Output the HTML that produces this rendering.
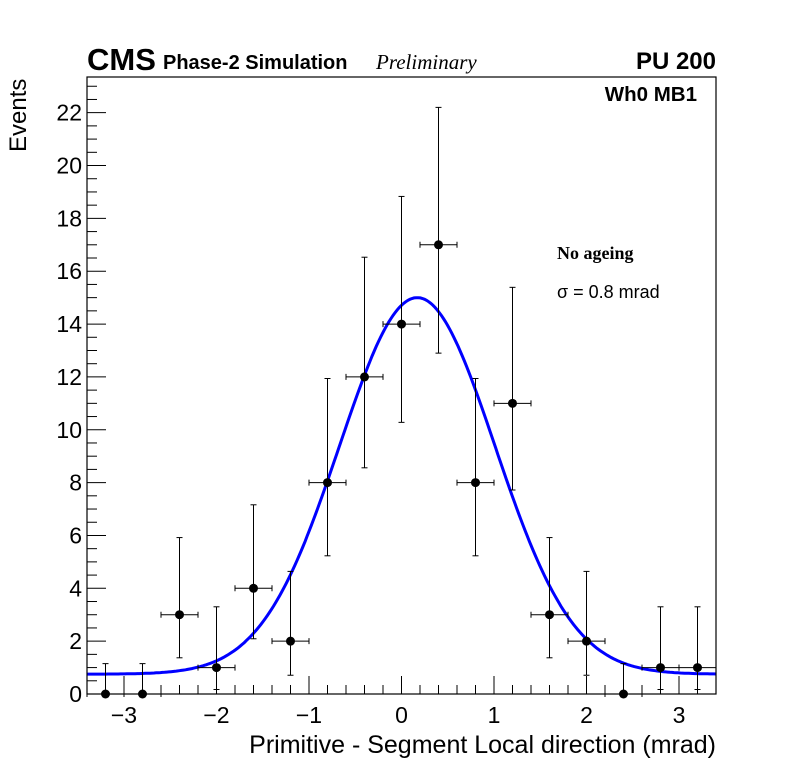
<!DOCTYPE html>
<html><head><meta charset="utf-8"><style>
html,body{margin:0;padding:0;background:#fff;}
svg{display:block;font-family:"Liberation Sans",sans-serif;}
</style></head><body>
<svg id="chart" width="796" height="772" viewBox="0 0 796 772">
<rect width="796" height="772" fill="#fff"/>
<g id="axes"></g>
<g id="marks"></g>
<rect x="87" y="77" width="629" height="617" fill="none" stroke="#000" stroke-width="1.2"/>
<text x="87" y="70" font-size="31" font-weight="bold">CMS</text>
<text x="163" y="69" font-size="20" font-weight="bold">Phase-2 Simulation</text>
<text x="376" y="69" font-size="21" font-style="italic" font-family="Liberation Serif, serif">Preliminary</text>
<text x="716" y="69" font-size="24" font-weight="bold" text-anchor="end">PU 200</text>
<text x="697" y="101" font-size="20.5" font-weight="bold" text-anchor="end">Wh0 MB1</text>
<text x="557" y="259" font-size="18" font-weight="bold" font-family="Liberation Serif, serif">No ageing</text>
<text x="557" y="298" font-size="18">σ = 0.8 mrad</text>
<text x="716" y="753" font-size="25" text-anchor="end">Primitive - Segment Local direction (mrad)</text>
<text transform="translate(26,152) rotate(-90)" font-size="24">Events</text>
</svg>
<script>
const binCenters = [-3.2,-2.8,-2.4,-2.0,-1.6,-1.2,-0.8,-0.4,0,0.4,0.8,1.2,1.6,2.0,2.4,2.8,3.2];
const counts = [0,0,3,1,4,2,8,12,14,17,8,11,3,2,0,1,1];
const errLow = [0,0,1.63,0.83,1.91,1.29,2.77,3.44,3.72,4.1,2.77,3.28,1.63,1.29,0,0.83,0.83];
const errHigh = [1.15,1.15,2.92,2.3,3.16,2.64,3.94,4.53,4.83,5.2,3.94,4.39,2.92,2.64,1.15,2.3,2.3];
const binHalfWidth = [0.2];
const fitParams = [14.25, 0.17, 0.84, 0.75]; // amplitude, mean, sigma, constant
const xTicks = [-3,-2,-1,0,1,2,3];
const xTickLabels = ["\u22123","\u22122","\u22121","0","1","2","3"];
const yTicks = [0,2,4,6,8,10,12,14,16,18,20,22];
const yTickLabels = ["0","2","4","6","8","10","12","14","16","18","20","22"];
const xMin=-3.4, xMax=3.4, yMin=0, yMax=23.35;
const L=87,R=716,T=77,B=694;
const X=v=>L+(v-xMin)/(xMax-xMin)*(R-L);
const Y=v=>B-(v-yMin)/(yMax-yMin)*(B-T);
const NS="http://www.w3.org/2000/svg";
const axes=document.getElementById('axes'), marks=document.getElementById('marks');
function mk(tag,attrs,parent){const e=document.createElementNS(NS,tag);for(const k in attrs)e.setAttribute(k,attrs[k]);parent.appendChild(e);return e;}
for(let v=-3.4;v<=3.4001;v+=0.2){
  const r=Math.round(v*10)/10;const major=Math.abs(r-Math.round(r))<1e-6;
  const t=mk('line',{x1:X(r),x2:X(r),y1:B,y2:B-(major?18:9),stroke:'#000','stroke-width':1},axes);
  
  
}
xTicks.forEach((v,i)=>{const t=mk('text',{x:X(v),y:B+29,'font-size':23,'text-anchor':'middle'},axes);t.textContent=xTickLabels[i];
  
  });
for(let v=0;v<=yMax;v+=0.5){
  const major=Math.abs(v%2)<1e-6;
  const t=mk('line',{x1:L,x2:L+(major?19:10),y1:Y(v),y2:Y(v),stroke:'#000','stroke-width':1},axes);
  
  
}
yTicks.forEach((v,i)=>{const t=mk('text',{x:L-5,y:Y(v)+8,'font-size':23,'text-anchor':'end'},axes);t.textContent=yTickLabels[i];
  
  });
let d='';
for(let i=0;i<=300;i++){const x=xMin+(xMax-xMin)*i/300;const y=fitParams[0]*Math.exp(-0.5*Math.pow((x-fitParams[1])/fitParams[2],2))+fitParams[3];d+=(i?'L':'M')+X(x).toFixed(1)+','+Y(y).toFixed(1);}
const fit=mk('path',{d:d,fill:'none',stroke:'#0000ff','stroke-width':3},marks);


binCenters.forEach((c,i)=>{
  const g=mk('g',{stroke:'#000','stroke-width':1},marks);
  
  
  const x=X(c),y=Y(counts[i]);
  const x1=X(c-binHalfWidth[0]),x2=X(c+binHalfWidth[0]);
  const yl=Y(counts[i]-errLow[i]),yh=Y(counts[i]+errHigh[i]);
  mk('line',{x1:x1,x2:x2,y1:y,y2:y},g);
  mk('line',{x1:x1,x2:x1,y1:y-3,y2:y+3},g);
  mk('line',{x1:x2,x2:x2,y1:y-3,y2:y+3},g);
  mk('line',{x1:x,x2:x,y1:yl,y2:yh},g);
  mk('line',{x1:x-3,x2:x+3,y1:yh,y2:yh},g);
  if(errLow[i]>0)mk('line',{x1:x-3,x2:x+3,y1:yl,y2:yl},g);
  mk('circle',{cx:x,cy:y,r:4.5,fill:'#000',stroke:'none'},g);
});
</script>
</body></html>
